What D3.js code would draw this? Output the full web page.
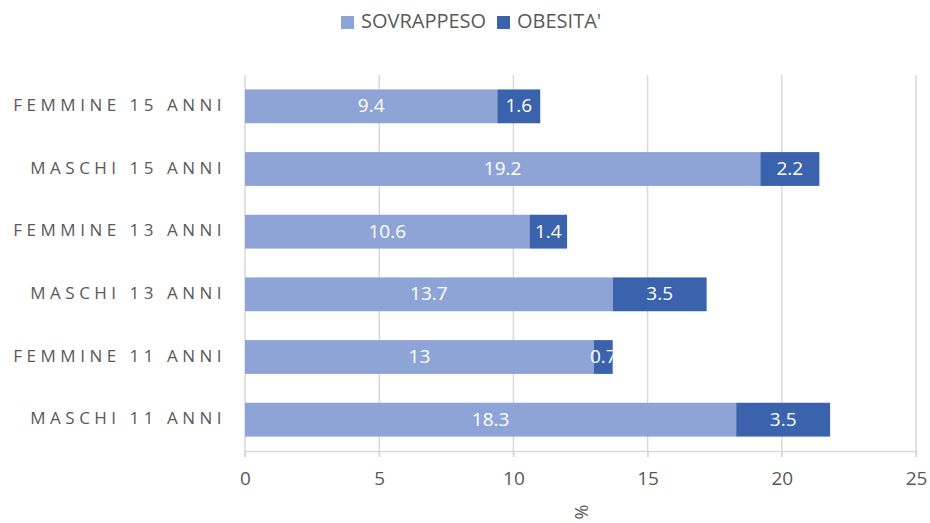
<!DOCTYPE html>
<html>
<head>
<meta charset="utf-8">
<script src="https://cdn.jsdelivr.net/npm/d3@7"></script>
<style>
  body { margin: 0; background: #fff; }
  text { font-family: "Open Sans", "Noto Sans", sans-serif; }
</style>
</head>
<body>
<div id="container"></div>
<script>
const WIDTH = 930;
const HEIGHT = 523;
const MARGIN = { top: 75, right: 14, bottom: 72, left: 245 };

const categories = [
  "FEMMINE 15 ANNI",
  "MASCHI 15 ANNI",
  "FEMMINE 13 ANNI",
  "MASCHI 13 ANNI",
  "FEMMINE 11 ANNI",
  "MASCHI 11 ANNI"
];
const sovrappeso = [9.4, 19.2, 10.6, 13.7, 13, 18.3];
const obesita = [1.6, 2.2, 1.4, 3.5, 0.7, 3.5];
const seriesNames = ["SOVRAPPESO", "OBESITA'"];
const xTicks = [0, 5, 10, 15, 20, 25];

const colors = ["#8FA4D6", "#3B63AD"];

const svg = d3
  .select("div#container")
  .append("svg")
  .attr("width", WIDTH)
  .attr("height", HEIGHT);

const xScale = d3
  .scaleLinear()
  .domain([0, 25])
  .range([MARGIN.left, WIDTH - MARGIN.right]);
const yScale = d3
  .scaleBand()
  .domain(categories)
  .range([MARGIN.top, HEIGHT - MARGIN.bottom])
  .paddingInner(0.46)
  .paddingOuter(0.23);

// gridlines
svg
  .append("g")
  .selectAll("line")
  .data(xTicks)
  .enter()
  .append("line")
  .attr("x1", (d) => xScale(d))
  .attr("x2", (d) => xScale(d))
  .attr("y1", MARGIN.top)
  .attr("y2", HEIGHT - MARGIN.bottom + 6)
  .attr("stroke", "#d9d9d9")
  .attr("stroke-width", 1.5);

// x axis
const xAxis = d3.axisBottom(xScale).tickValues(xTicks).tickSize(6).tickPadding(15);
const gx = svg
  .append("g")
  .attr("transform", `translate(0, ${HEIGHT - MARGIN.bottom})`)
  .call(xAxis);
gx.select(".domain").attr("stroke", "#d9d9d9").attr("stroke-width", 1.5);
gx.selectAll(".tick line").attr("stroke", "#d9d9d9").attr("stroke-width", 1.5);
gx.selectAll(".tick text")
  .attr("fill", "#595959")
  .style("font-size", "19px");

// x axis title
svg
  .append("text")
  .attr("transform", `translate(${(MARGIN.left + WIDTH - MARGIN.right) / 2 + 3}, ${HEIGHT - 11}) rotate(-90)`)
  .attr("text-anchor", "middle")
  .attr("dominant-baseline", "middle")
  .attr("fill", "#595959")
  .style("font-size", "18px")
  .text("%");

// y labels
svg
  .append("g")
  .selectAll("text")
  .data(categories)
  .enter()
  .append("text")
  .attr("x", MARGIN.left - 19)
  .attr("y", (d) => yScale(d) + yScale.bandwidth() / 2)
  .attr("text-anchor", "end")
  .attr("dominant-baseline", "middle")
  .attr("fill", "#595959")
  .style("font-size", "17px")
  .style("letter-spacing", "4.5px")
  .text((d) => d);

const rows = categories.map((c, i) => ({
  cat: c,
  segs: [
    { s: 0, x0: 0, x1: sovrappeso[i], v: sovrappeso[i] },
    { s: 1, x0: sovrappeso[i], x1: sovrappeso[i] + obesita[i], v: obesita[i] }
  ]
}));

const defs = svg.append("defs");
rows.forEach((r, i) => {
  defs
    .append("clipPath")
    .attr("id", "clip" + i)
    .append("rect")
    .attr("x", 0)
    .attr("y", yScale(r.cat))
    .attr("width", xScale(r.segs[1].x1))
    .attr("height", yScale.bandwidth());
});

const rowG = svg
  .append("g")
  .selectAll("g")
  .data(rows)
  .enter()
  .append("g");

rowG
  .selectAll("rect")
  .data((d) => d.segs.map((s) => ({ ...s, cat: d.cat })))
  .enter()
  .append("rect")
  .attr("x", (d) => xScale(d.x0))
  .attr("width", (d) => xScale(d.x1) - xScale(d.x0))
  .attr("y", (d) => yScale(d.cat))
  .attr("height", yScale.bandwidth())
  .attr("fill", (d) => colors[d.s]);

rowG
  .append("g")
  .attr("clip-path", (_, i) => `url(#clip${i})`)
  .selectAll("text")
  .data((d) => d.segs.map((s) => ({ ...s, cat: d.cat })))
  .enter()
  .append("text")
  .attr("x", (d) => (xScale(d.x0) + xScale(d.x1)) / 2)
  .attr("y", (d) => yScale(d.cat) + yScale.bandwidth() / 2 + 1)
  .attr("text-anchor", "middle")
  .attr("dominant-baseline", "middle")
  .attr("fill", "#fff")
  .style("font-size", "19px")
  .text((d) => d.v);

// legend
const legend = svg.append("g");
const legendX = [341, 497];
seriesNames.forEach((name, i) => {
  legend
    .append("rect")
    .attr("x", legendX[i])
    .attr("y", 16)
    .attr("width", 13)
    .attr("height", 13)
    .attr("fill", colors[i]);
  legend
    .append("text")
    .attr("x", legendX[i] + 20)
    .attr("y", 23)
    .attr("dominant-baseline", "middle")
    .attr("fill", "#595959")
    .style("font-size", "20px")
    .text(name);
});
</script>
</body>
</html>
